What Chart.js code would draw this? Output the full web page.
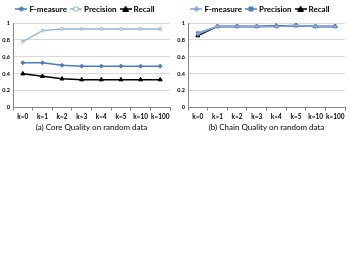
<!DOCTYPE html>
<html><head><meta charset="utf-8">
<script src="https://cdn.jsdelivr.net/npm/chart.js@4/dist/chart.umd.min.js"></script>
<style>
html,body{margin:0;padding:0;background:#fff;}
.box{position:absolute;top:0;width:175px;height:132px;}
</style></head>
<body>
<div class="box" style="left:0"><canvas id="c1" width="175" height="132"></canvas></div>
<div class="box" style="left:175px"><canvas id="c2" width="175" height="132"></canvas></div>
<script>
const categories = ["k=0","k=1","k=2","k=3","k=4","k=5","k=10","k=100"];
const yTicks = [0,0.1,0.2,0.3,0.4,0.5,0.6,0.7,0.8,0.9,1];
// (a) Core Quality
const coreF = [0.53,0.53,0.50,0.49,0.49,0.49,0.49,0.49];
const coreP = [0.78,0.91,0.93,0.93,0.93,0.93,0.93,0.93];
const coreR = [0.40,0.37,0.34,0.33,0.33,0.33,0.33,0.33];
// (b) Chain Quality
const chainF = [0.87,0.96,0.96,0.96,0.96,0.97,0.96,0.96];
const chainP = [0.88,0.96,0.96,0.96,0.96,0.97,0.96,0.96];
const chainR = [0.85,0.96,0.96,0.96,0.965,0.97,0.96,0.96];
const captions = ["(a) Core Quality on random data","(b) Chain Quality on random data"];

const FONT = "Lato, 'Open Sans', sans-serif";

function legendIcon(color, style, fill){
  const c = document.createElement('canvas');
  c.width = 12; c.height = 6;
  const g = c.getContext('2d');
  g.strokeStyle = color; g.lineWidth = 1.5;
  g.beginPath(); g.moveTo(0, 3); g.lineTo(12, 3); g.stroke();
  g.fillStyle = fill; g.lineWidth = 1;
  g.beginPath();
  if (style === 'rectRot') { g.moveTo(6,0.5); g.lineTo(8.5,3); g.lineTo(6,5.5); g.lineTo(3.5,3); g.closePath(); }
  else if (style === 'rect') { g.rect(4,1,4,4); }
  else { g.moveTo(6,0.2); g.lineTo(9,5.5); g.lineTo(3,5.5); g.closePath(); }
  g.fill(); g.stroke();
  return c;
}
function ds(label, data, color, style, fill, r){
  return {label, data, borderColor: color, backgroundColor: fill, pointStyle: style,
    pointRadius: r, pointBorderColor: color, pointBorderWidth: 1, borderWidth: 1.5, tension: 0,
    _icon: legendIcon(color, style, fill)};
}
function makeChart(id, sets, caption){
  new Chart(document.getElementById(id), {
    type: 'line',
    data: {labels: categories, datasets: sets},
    options: {
      responsive: false, animation: false,
      layout: {padding: {left: 0, right: 3, top: 0, bottom: 0}},
      plugins: {
        legend: {position: 'top', labels: {usePointStyle: true, padding: 5,
          color: '#000', font: {family: FONT, size: 8, weight: 'bold'},
          generateLabels: chart => chart.data.datasets.map((d, i) => ({
            text: d.label, pointStyle: d._icon, datasetIndex: i, hidden: false,
            fillStyle: d.backgroundColor, strokeStyle: d.borderColor, lineWidth: 0, fontColor: '#000'
          }))
        }},
        tooltip: {enabled: false}
      },
      scales: {
        x: {offset: true,
          grid: {display: true, drawOnChartArea: false, offset: true, tickLength: 3, color: '#868686'},
          border: {color: '#868686'},
          ticks: {color: '#000', font: {family: FONT, size: 6.5, weight: 'bold'}, maxRotation: 0, autoSkip: false, padding: 2},
          title: {display: true, text: caption, color: '#000', padding: {top: 0, bottom: 0},
            font: {family: FONT, size: 8}}
        },
        y: {min: 0, max: 1,
          afterBuildTicks: s => { s.ticks = yTicks.map(v => ({value: v})); },
          afterFit: s => { s.width = 13; },
          grid: {color: '#d9d9d9', drawTicks: false},
          border: {color: '#868686'},
          ticks: {color: '#000', font: {family: FONT, size: 5.5, weight: 'bold'}, padding: 3,
            callback: v => String(v)}
        }
      }
    }
  });
}
makeChart('c1', [
  ds('F-measure', coreF, '#4a7ebb', 'rectRot', '#4a7ebb', 2),
  ds('Precision', coreP, '#95b3d7', 'rect', '#ffffff', 1.6),
  ds('Recall', coreR, '#000000', 'triangle', '#000000', 2.3)
], captions[0]);
makeChart('c2', [
  ds('F-measure', chainF, '#7ea6dc', 'rectRot', '#7ea6dc', 1.8),
  ds('Precision', chainP, '#4f81bd', 'rect', '#4f81bd', 2),
  ds('Recall', chainR, '#000000', 'triangle', '#000000', 2.3)
], captions[1]);
</script>
</body></html>
